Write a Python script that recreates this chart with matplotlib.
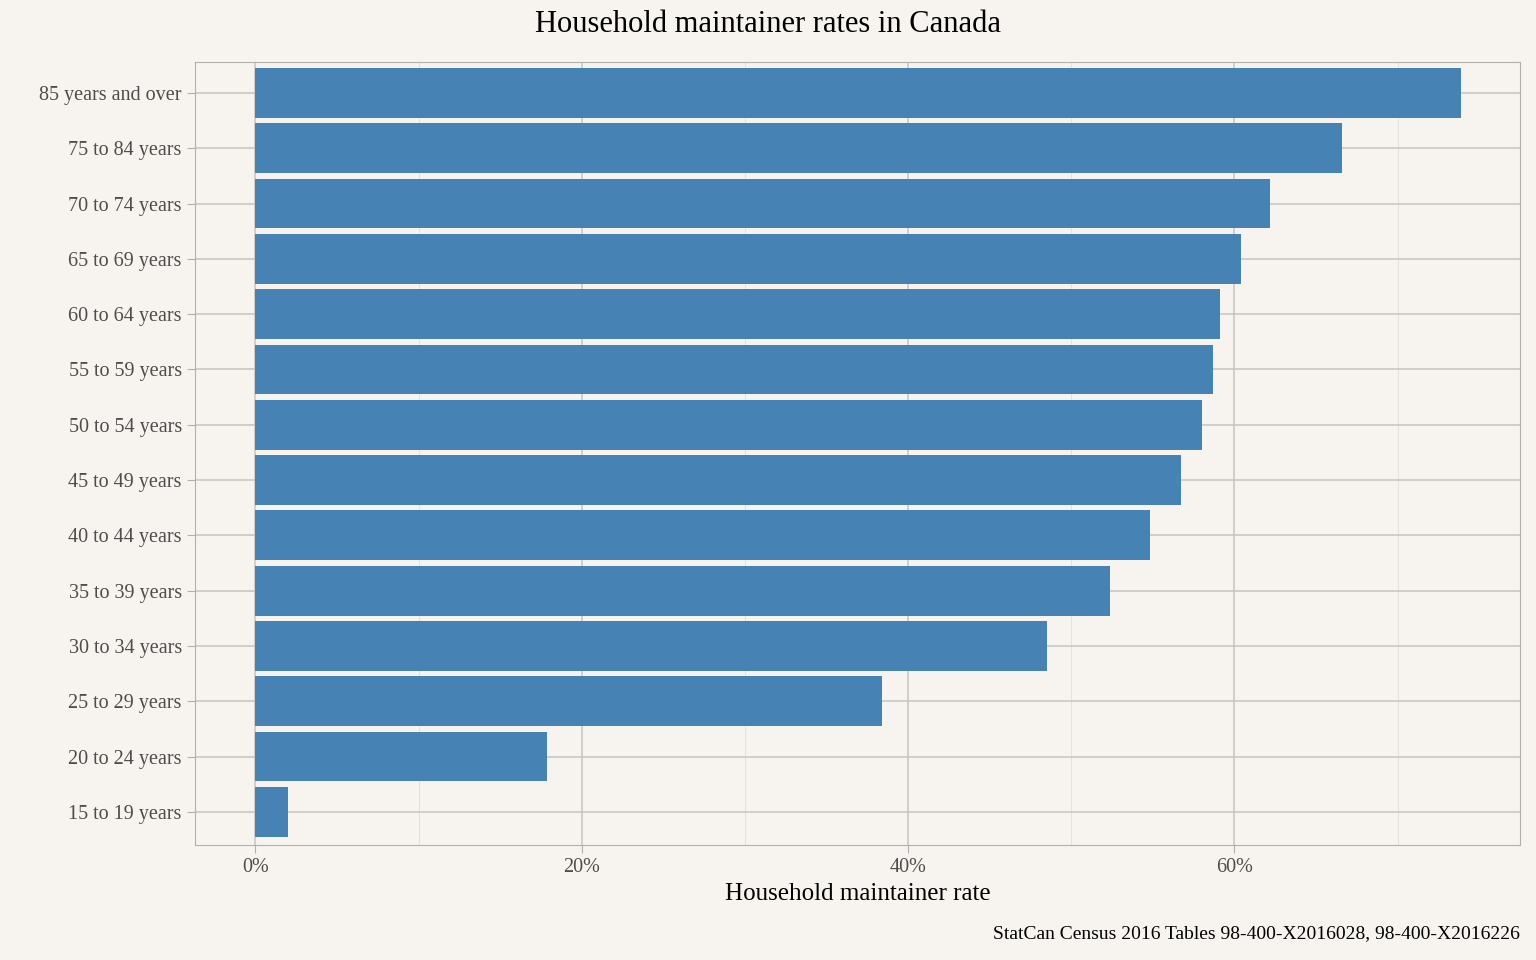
import numpy as np
import matplotlib.pyplot as plt
from matplotlib.ticker import FuncFormatter, MultipleLocator

ages = ['15 to 19 years', '20 to 24 years', '25 to 29 years', '30 to 34 years',
        '35 to 39 years', '40 to 44 years', '45 to 49 years', '50 to 54 years',
        '55 to 59 years', '60 to 64 years', '65 to 69 years', '70 to 74 years',
        '75 to 84 years', '85 years and over']
rates = [2.0, 17.9, 38.4, 48.5, 52.4, 54.8, 56.7, 58.0, 58.7, 59.1, 60.4, 62.2, 66.6, 73.9]

plt.rcParams['font.family'] = ['Liberation Serif', 'DejaVu Serif']
bg = '#f7f4ef'

fig = plt.figure(figsize=(15.36, 9.6), dpi=100, facecolor=bg)
ax = fig.add_axes([195 / 1536, 1 - 845 / 960, (1520 - 195) / 1536, (845 - 62) / 960])
ax.set_facecolor(bg)
y = np.arange(len(ages))
ax.barh(y, rates, height=0.9, color='#4682b4', zorder=3)

ax.set_xlim(-3.7, 77.5)
ax.set_ylim(-0.6, len(ages) - 1 + 0.56)
ax.set_yticks(y)
ax.set_yticklabels(ages)
ax.xaxis.set_major_locator(MultipleLocator(20))
ax.xaxis.set_minor_locator(MultipleLocator(10))
ax.xaxis.set_major_formatter(FuncFormatter(lambda v, p: f'{v:.0f}%'))
ax.grid(which='major', color='#c4c4c4', lw=1.1, zorder=0)
ax.grid(which='minor', axis='x', color='#e4e2de', lw=0.8, zorder=0)
for s in ax.spines.values():
    s.set_color('#b0b0b0')
ax.tick_params(which='major', colors='#b0b0b0', labelcolor='#4d4d4d', labelsize=14.5, length=6)
ax.tick_params(which='minor', length=0)

ax.set_xlabel('Household maintainer rate', fontsize=18, labelpad=4)
fig.suptitle('Household maintainer rates in Canada', fontsize=22, y=0.99)
fig.text(1520 / 1536, 1 - 934 / 960, 'StatCan Census 2016 Tables 98-400-X2016028, 98-400-X2016226',
         ha='right', va='center', fontsize=14)

fig.savefig('out.png', dpi=100, facecolor=bg)
